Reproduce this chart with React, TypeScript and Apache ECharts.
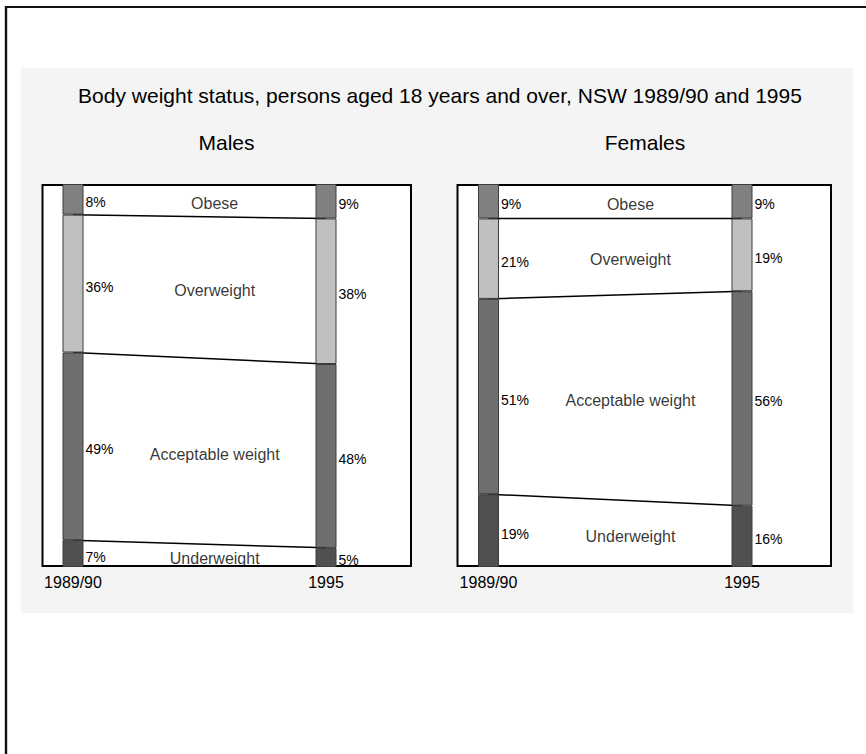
import React, { useEffect, useRef } from 'react';
import * as echarts from 'echarts';

const years = ['1989/90', '1995'];
const groups = ['Males', 'Females'];
const categories = ['Underweight', 'Acceptable weight', 'Overweight', 'Obese'];
const maleUnderweight = [7, 5];
const maleAcceptable = [49, 48];
const maleOverweight = [36, 38];
const maleObese = [8, 9];
const femaleUnderweight = [19, 16];
const femaleAcceptable = [51, 56];
const femaleOverweight = [21, 19];
const femaleObese = [9, 9];
const chartTitle = 'Body weight status, persons aged 18 years and over, NSW 1989/90 and 1995';

const FONT = '"Liberation Sans", Arial, Helvetica, sans-serif';
const segmentColors = ['#505050', '#6f6f6f', '#c0c0c0', '#808080'];

const groupStacks = [
  [maleUnderweight, maleAcceptable, maleOverweight, maleObese],
  [femaleUnderweight, femaleAcceptable, femaleOverweight, femaleObese],
];

const grids = [
  { left: 73, top: 184, width: 253, height: 383 },
  { left: 488.5, top: 184, width: 253.5, height: 383 },
];
const boxes = [
  { x: 42.5, y: 185, width: 368.5, height: 381 },
  { x: 457.5, y: 185, width: 373.5, height: 381 },
];
const groupTitleX = [226.5, 645];
const labelX = 0.56;

export default function App() {
  const ref = useRef<HTMLDivElement>(null);
  useEffect(() => {
    if (!ref.current) return;
    const chart = echarts.init(ref.current, null, { renderer: 'svg' });

    const xAxis: any[] = [];
    const yAxis: any[] = [];
    const series: any[] = [];

    groupStacks.forEach((stacks, g) => {
      xAxis.push({
        type: 'category',
        gridIndex: g,
        data: years,
        boundaryGap: false,
        axisLine: { show: false },
        axisTick: { show: false },
        splitLine: { show: false },
        axisLabel: { fontSize: 16, color: '#000', margin: 7, fontFamily: FONT },
      });
      xAxis.push({ type: 'value', gridIndex: g, min: 0, max: 1, show: false });
      yAxis.push({ type: 'value', gridIndex: g, min: 0, max: 100, show: false });

      const cum: number[][] = [];
      stacks.forEach((vals, k) => {
        cum.push(vals.map((v, i) => v + (k > 0 ? cum[k - 1][i] : 0)));
      });

      stacks.forEach((vals, k) => {
        series.push({
          type: 'bar',
          name: categories[k],
          stack: 'g' + g,
          xAxisIndex: 2 * g,
          yAxisIndex: g,
          data: vals,
          barWidth: 21,
          clip: false,
          z: 3,
          itemStyle: { color: segmentColors[k], borderColor: '#3c3c3c', borderWidth: 1 },
          label: {
            show: true,
            position: 'right',
            distance: 2,
            offset: [0, 3],
            formatter: '{c}%',
            fontSize: 14,
            color: '#000',
            fontFamily: FONT,
          },
        });
      });

      for (let k = 0; k < stacks.length - 1; k++) {
        series.push({
          type: 'line',
          xAxisIndex: 2 * g,
          yAxisIndex: g,
          data: cum[k],
          symbol: 'none',
          silent: true,
          z: 1,
          lineStyle: { color: '#000', width: 1.5 },
        });
      }

      series.push({
        type: 'scatter',
        xAxisIndex: 2 * g + 1,
        yAxisIndex: g,
        symbolSize: 1,
        silent: true,
        z: 4,
        itemStyle: { color: 'transparent' },
        data: categories.map((c, k) => {
          const mids = stacks[k].map((v, i) => cum[k][i] - v / 2);
          return { name: c, value: [labelX, (mids[0] + mids[1]) / 2] };
        }),
        label: {
          show: true,
          position: 'inside',
          offset: [0, 3],
          formatter: (p: any) => p.name,
          fontSize: 16,
          color: '#000',
          fontFamily: FONT,
        },
      });
    });

    const graphic: any[] = [
      { type: 'rect', shape: { x: 21, y: 68, width: 832, height: 545 }, style: { fill: '#f4f4f4' }, silent: true },
      { type: 'line', shape: { x1: 6, y1: 7, x2: 900, y2: 7 }, style: { stroke: '#111', lineWidth: 2.2 }, silent: true },
      { type: 'line', shape: { x1: 6, y1: 6, x2: 6, y2: 800 }, style: { stroke: '#111', lineWidth: 2.4 }, silent: true },
      ...boxes.map((b) => ({ type: 'rect', shape: b, style: { fill: '#fff', stroke: '#000', lineWidth: 2 }, silent: true })),
      {
        type: 'text',
        x: 440,
        y: 95,
        style: { text: chartTitle, fontSize: 21, fill: '#000', fontFamily: FONT, textAlign: 'center', textVerticalAlign: 'middle' },
      },
      ...groups.map((name, g) => ({
        type: 'text',
        x: groupTitleX[g],
        y: 142,
        style: { text: name, fontSize: 21, fill: '#000', fontFamily: FONT, textAlign: 'center', textVerticalAlign: 'middle' },
      })),
    ];

    chart.setOption({
      animation: false,
      backgroundColor: '#fff',
      grid: grids,
      xAxis,
      yAxis,
      series,
      graphic,
    });
    return () => chart.dispose();
  }, []);
  return <div ref={ref} style={{ position: 'absolute', left: 0, top: 0, width: 866, height: 754 }} />;
}
